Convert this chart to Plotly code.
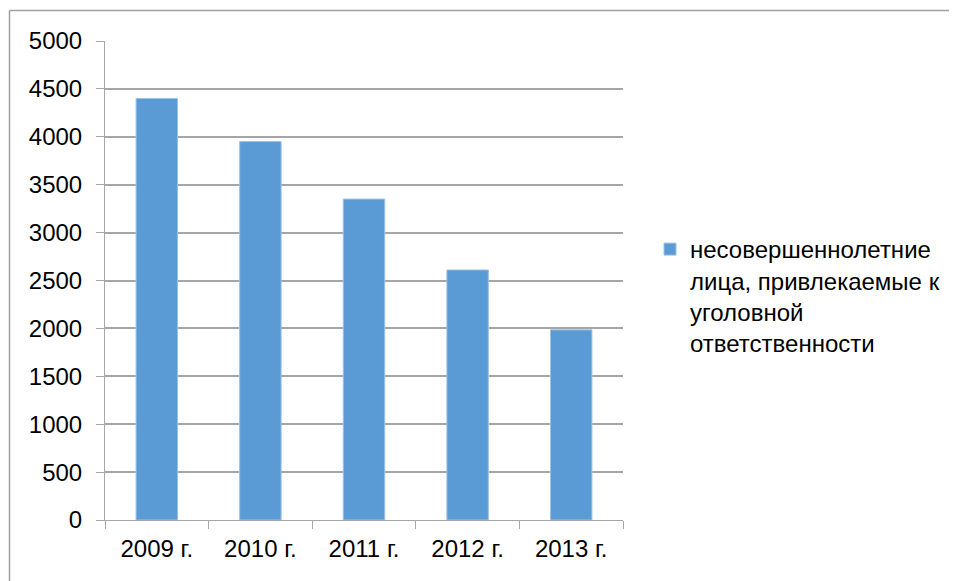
import plotly.graph_objects as go

categories = ["2009 г.", "2010 г.", "2011 г.", "2012 г.", "2013 г."]
values = [4400, 3950, 3350, 2610, 1985]
series_name = "несовершеннолетние<br>лица, привлекаемые к<br>уголовной<br>ответственности"
y_ticks = [0, 500, 1000, 1500, 2000, 2500, 3000, 3500, 4000, 4500, 5000]

W, H = 957, 581
OFF = 8  # page body margin offset
ML, MT = 105 - OFF, 41 - OFF
MR = W - (623 - OFF)
MB = H - (520 - OFF)

FONT = "Liberation Sans"
GRID = "#a6a6a6"

fig = go.Figure()
fig.add_trace(go.Bar(
    x=categories, y=values, name=series_name,
    marker=dict(color="#5b9bd5", line=dict(color="#9cc2e5", width=1)),
    width=0.4, showlegend=True,
))

pw = W - ML - MR
ph = H - MT - MB
def px_x(p):
    return (p - OFF - ML) / pw
def px_y(p):
    return (H - MB - (p - OFF)) / ph

fig.update_layout(
    width=W, height=H,
    margin=dict(l=ML, r=MR, t=MT, b=MB, pad=0),
    paper_bgcolor="white", plot_bgcolor="white",
    font=dict(family=FONT, size=24, color="#000000"),
    showlegend=True,
    legend=dict(x=px_x(650), y=px_y(227), xanchor="left", yanchor="top",
                font=dict(family=FONT, size=24), itemwidth=30, valign="top",
                bgcolor="rgba(0,0,0,0)", tracegroupgap=0),
    xaxis=dict(showgrid=False, showline=True, linecolor=GRID, linewidth=1,
               ticks="outside", ticklen=8, tickcolor=GRID,
               tickson="boundaries", tickfont=dict(size=24),
               ticklabelstandoff=7, fixedrange=True),
    yaxis=dict(range=[0, 5000], tickvals=y_ticks, showgrid=True, gridcolor=GRID,
               gridwidth=1.5, showline=True, linecolor=GRID, linewidth=1,
               ticks="outside", ticklen=8, tickcolor=GRID,
               tickfont=dict(size=24), ticklabelstandoff=9, zeroline=False,
               fixedrange=True),
    shapes=[
        dict(type="line", xref="paper", yref="paper",
             x0=px_x(9.5), x1=px_x(W + 20), y0=px_y(10.5), y1=px_y(10.5),
             line=dict(color="#a0a0a0", width=1.5)),
        dict(type="line", xref="paper", yref="paper",
             x0=px_x(9.5), x1=px_x(9.5), y0=px_y(10.5), y1=px_y(H + 20),
             line=dict(color="#a0a0a0", width=1.5)),
    ],
)

fig.write_html("out.html")
